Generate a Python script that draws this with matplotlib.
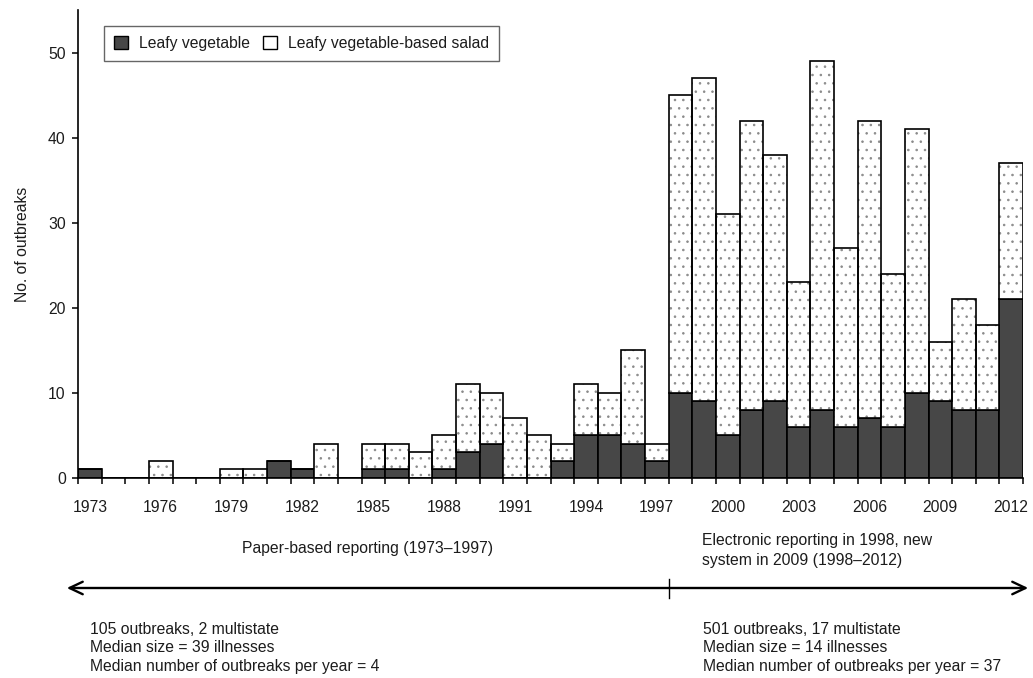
import matplotlib
matplotlib.use("Agg")
import matplotlib.pyplot as plt
from matplotlib.patches import Patch
from matplotlib.lines import Line2D
import matplotlib.transforms as mtransforms

plt.rcParams['font.family'] = ['Liberation Sans', 'DejaVu Sans']
plt.rcParams['hatch.linewidth'] = 0.6

years = list(range(1973, 2013))
leafy_vegetable = [1, 0, 0, 0, 0, 0, 0, 0, 2, 1, 0, 0, 1, 1, 0, 1, 3, 4, 0, 0, 2, 5, 5, 4, 2,
                   10, 9, 5, 8, 9, 6, 8, 6, 7, 6, 10, 9, 8, 8, 21]
total_outbreaks = [1, 0, 0, 2, 0, 0, 1, 1, 2, 1, 4, 0, 4, 4, 3, 5, 11, 10, 7, 5, 4, 11, 10, 15, 4,
                   45, 47, 31, 42, 38, 23, 49, 27, 42, 24, 41, 16, 21, 18, 37]
salad = [t - l for t, l in zip(total_outbreaks, leafy_vegetable)]
label_years = list(range(1973, 2013, 3))
y_ticks = [0, 10, 20, 30, 40, 50]

W, H = 1033, 678
fig = plt.figure(figsize=(W / 100, H / 100), dpi=100)
ax = fig.add_axes([78 / W, (H - 478) / H, (1023 - 78) / W, (478 - 10) / H])

x = list(range(len(years)))
dark = '#474747'
ink = '#1c1c1c'
fs = 11.3

ax.bar(x, leafy_vegetable, width=1.0, color=dark, edgecolor='black', linewidth=1.2, zorder=2)
ax.bar(x, salad, width=1.0, bottom=leafy_vegetable, color='white', edgecolor='#8a8a8a',
       hatch='..', linewidth=0, zorder=2)
ax.bar(x, salad, width=1.0, bottom=leafy_vegetable, fill=False, edgecolor='black',
       linewidth=1.2, zorder=3)

ax.set_xlim(-0.5, len(years) - 0.5)
ax.set_ylim(0, 55)
for s in ['top', 'right']:
    ax.spines[s].set_visible(False)
for s in ['left', 'bottom']:
    ax.spines[s].set_linewidth(1.2)
    ax.spines[s].set_color('black')

# year labels at bar centres, tick marks at bar edges
ax.set_xticks([years.index(y) for y in label_years])
ax.set_xticklabels([str(y) for y in label_years])
ax.set_xticks([i - 0.5 for i in range(len(years) + 1)], minor=True)
ax.tick_params(axis='x', which='major', length=0, pad=16, labelsize=fs, labelcolor=ink)
ax.tick_params(axis='x', which='minor', length=4.3, width=1.1, direction='out')
ax.set_yticks(y_ticks)
ax.tick_params(axis='y', length=4.3, width=1.1, direction='out', pad=4.5, labelsize=fs,
               labelcolor=ink)

ax.set_ylabel('No. of outbreaks', fontsize=fs, color=ink)
ax.yaxis.set_label_coords((30 - 78) / 945, 0.5)

handles = [Patch(facecolor=dark, edgecolor='black', linewidth=1.0),
           Patch(facecolor='white', edgecolor='black', linewidth=1.0)]
leg = ax.legend(handles, ['Leafy vegetable', 'Leafy vegetable-based salad'], ncol=2,
                loc='upper left', bbox_to_anchor=(104 / W, 1 - 26 / H),
                bbox_transform=fig.transFigure, borderaxespad=0, fancybox=False,
                framealpha=1, edgecolor='#666666', fontsize=fs, handlelength=0.9,
                handleheight=0.9, handletextpad=0.7, columnspacing=0.8, borderpad=0.65)
leg.get_frame().set_linewidth(1.0)
for t in leg.get_texts():
    t.set_color(ink)

def fx(px):
    return px / W

def fy(py):
    return 1 - py / H

fig.text(fx(367), fy(548), 'Paper-based reporting (1973\u20131997)', ha='center', va='center',
         fontsize=fs, color=ink)
fig.text(fx(702), fy(540), 'Electronic reporting in 1998, new', ha='left', va='center',
         fontsize=fs, color=ink)
fig.text(fx(702), fy(560), 'system in 2009 (1998\u20132012)', ha='left', va='center',
         fontsize=fs, color=ink)

# timeline arrow
fig.add_artist(matplotlib.patches.FancyArrowPatch(
    (fx(64), fy(588)), (fx(1031), fy(588)), transform=fig.transFigure,
    arrowstyle='<->,head_length=0.95,head_width=0.45', mutation_scale=10,
    linewidth=1.7, color='black'))
trans = mtransforms.blended_transform_factory(ax.transData, fig.transFigure)
fig.add_artist(Line2D([24.5, 24.5], [fy(579), fy(598)], transform=trans, color='black',
                      linewidth=1.0))

left_lines = ['105 outbreaks, 2 multistate', 'Median size = 39 illnesses',
              'Median number of outbreaks per year = 4']
right_lines = ['501 outbreaks, 17 multistate', 'Median size = 14 illnesses',
               'Median number of outbreaks per year = 37']
for i, (a, b) in enumerate(zip(left_lines, right_lines)):
    yy = [630, 648, 667][i]
    fig.text(fx(90), fy(yy), a, ha='left', va='center', fontsize=fs, color=ink)
    fig.text(fx(703), fy(yy), b, ha='left', va='center', fontsize=fs, color=ink)

fig.savefig('out.png', dpi=100)
